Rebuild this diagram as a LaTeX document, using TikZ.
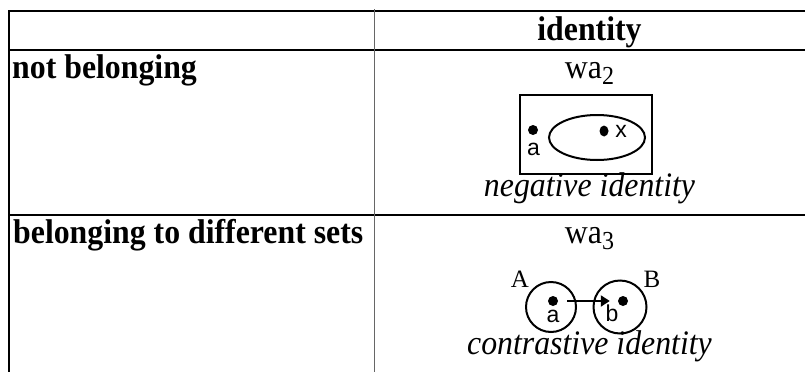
\documentclass[tikz,border=0pt]{standalone}
\usepackage{fontspec}
\setmainfont{Liberation Serif}
\newfontfamily\labelsans{Liberation Sans}
\usetikzlibrary{arrows.meta,shapes.geometric}
\begin{document}
\begin{tikzpicture}[x=1pt,y=-1pt,
  rule/.style={line width=2.4pt,black},
  divider/.style={line width=1.8pt,black!60},
  serif/.style={anchor=base,inner sep=0,transform shape,yscale=1.08},
  hdr/.style={serif,font=\fontsize{31.8}{38}\selectfont\bfseries},
  body/.style={serif,font=\fontsize{31.8}{38}\selectfont},
  caption/.style={serif,font=\fontsize{31.8}{38}\selectfont\itshape},
  lbl/.style={font=\labelsans\fontsize{23}{27}\selectfont,inner sep=0,anchor=base},
  setname/.style={font=\fontsize{25}{30}\selectfont,inner sep=0},
  dot/.style={circle,fill,inner sep=0,minimum size=10pt},
  setline/.style={draw,line width=2pt,inner sep=0},
  arr/.style={-{Triangle[length=9pt,width=11pt]},line width=2pt}]
\useasboundingbox (0,0) rectangle (805,372);

% table rules
\draw[rule] (805,11) -- (9,11) -- (9,372);
\draw[rule] (9,50) -- (805,50);
\draw[rule] (9,215) -- (805,215);
\draw[divider] (374.5,9) -- (374.5,372);

% header and row titles
\node[hdr] (hid) at (589.5,40) {identity};
\node[hdr,anchor=base west] (r1) at (12,78) {not belonging};
\node[hdr,anchor=base west] (r2) at (13,243) {belonging to different sets};

% row 1: negative identity
\node[body] (wa2) at (589.5,78) {wa\raisebox{-6pt}{\fontsize{24}{28}\selectfont 2}};
\node[setline,rectangle,line width=2.4pt,minimum width=132pt,minimum height=79pt] (box) at (586,134.5) {};
\node[setline,ellipse,minimum width=96pt,minimum height=45pt] (setx) at (597,137.5) {};
\node[dot] (pa1) at (533,130) {};
\node[lbl] (la1) at (533.5,155) {a};
\node[dot,minimum width=9pt,minimum height=11pt,ellipse] (px) at (604,131) {};
\node[lbl] (lx) at (621,137) {x};
\node[caption] (neg) at (589.5,196) {negative identity};

% row 2: contrastive identity
\node[body] (wa3) at (589.5,243) {wa\raisebox{-6pt}{\fontsize{24}{28}\selectfont 3}};
\node[setline,circle,minimum size=50pt] (setA) at (551,307) {};
\node[setline,circle,minimum size=53pt] (setB) at (620,307) {};
\node[setname] (nA) at (520,279) {A};
\node[setname] (nB) at (652,279) {B};
\node[dot] (pa2) at (553,301) {};
\node[lbl] (la2) at (553,322) {a};
\node[dot] (pb) at (623,301) {};
\node[lbl] (lb) at (612,321) {b};
\draw[arr,shorten <=9pt,shorten >=8pt] (pa2) -- (pb);
\node[caption] (con) at (589.5,354) {contrastive identity};
\end{tikzpicture}
\end{document}
